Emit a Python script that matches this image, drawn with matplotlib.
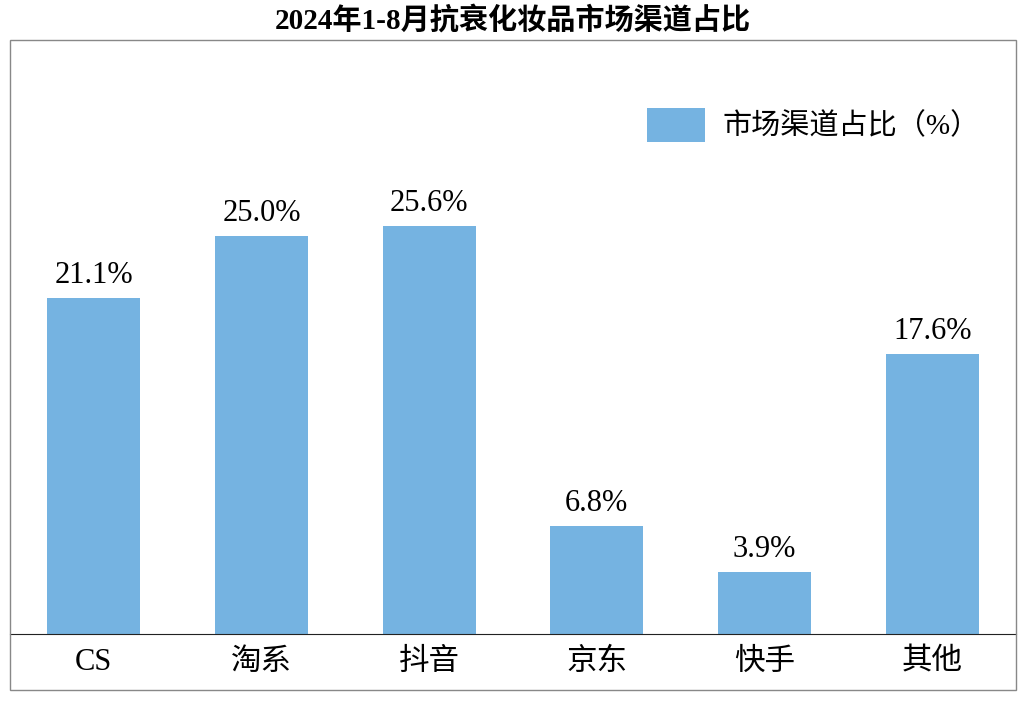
import matplotlib
matplotlib.use("Agg")
import matplotlib.pyplot as plt
from matplotlib.patches import Rectangle

categories = ["CS", "淘系", "抖音", "京东", "快手", "其他"]
values = [21.1, 25.0, 25.6, 6.8, 3.9, 17.6]
labels = ["21.1%", "25.0%", "25.6%", "6.8%", "3.9%", "17.6%"]
title = "2024年1-8月抗衰化妆品市场渠道占比"
legend_label = "市场渠道占比（%）"

fam = ["Liberation Serif", "Noto Sans CJK SC"]
color = "#75B3E1"

fig = plt.figure(figsize=(10.26, 7.04), dpi=100)
W, H = 1026, 704
ax = fig.add_axes([10/W, (H-634)/H, (1016-10)/W, (634-40)/H])
x = range(len(categories))
bars = ax.bar(x, values, width=0.556, color=color, label=legend_label, zorder=2)
for xi, v, l in zip(x, values, labels):
    ax.text(xi, v + 0.5, l, ha="center", va="bottom", fontsize=22, family=fam)
ax.set_xlim(-0.5, 5.5)
ax.set_ylim(0, (634-40)/15.93)
ax.set_yticks([])
ax.set_xticks(list(x))
ax.set_xticklabels(categories, fontsize=22, family=fam)
ax.tick_params(axis="x", length=0, pad=10)
for s in ["top", "right", "left"]:
    ax.spines[s].set_visible(False)
ax.spines["bottom"].set_color("#222222")
ax.patch.set_alpha(0)

fig.patches.append(Rectangle((10/W, (H-690)/H), (1016-10)/W, (690-40)/H,
                             transform=fig.transFigure, fill=False,
                             edgecolor="#888888", linewidth=1))
leg = ax.legend(loc="upper right", bbox_to_anchor=(0.99, 0.93), frameon=False,
                prop={"family": fam, "size": 21}, handlelength=2.0, handleheight=1.4,
                handletextpad=0.6)
fig.text(0.5, (H-20)/H, title, ha="center", va="center", fontsize=21,
         fontweight="bold", family=fam)
fig.savefig("out.png", dpi=100)
